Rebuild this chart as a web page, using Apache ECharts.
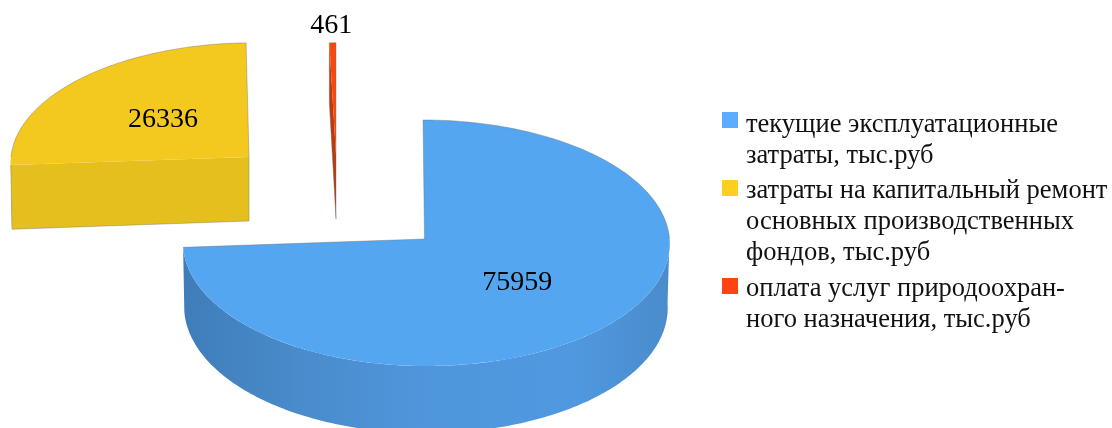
<!DOCTYPE html>
<html>
<head>
<meta charset="utf-8">
<style>html,body{margin:0;padding:0;background:#fff}#c{width:1112px;height:428px}</style>
<script src="https://cdn.jsdelivr.net/npm/echarts@6/dist/echarts.min.js"></script>
</head>
<body>
<div id="c"></div>
<script>
var categories = [
  'текущие эксплуатационные\nзатраты, тыс.руб',
  'затраты на капитальный ремонт\nосновных производственных\nфондов, тыс.руб',
  'оплата услуг природоохран-\nного назначения, тыс.руб'
];
var values = [75959, 26336, 461];
var legendColors = ['#5BADFF', '#FFCE1F', '#FF4412'];
var topColors = ['#55A6F1', '#F3C91F', '#F8480F'];
var sideColors = ['#4F96DD', '#E5BF1E', '#B93A0C'];

var FONT = '"Liberation Serif","DejaVu Serif",serif';
var geometry = [
  {ox: 424.5, oy: 239, rx: 245, rxLeft: 241.5, ry: 123, shear: 0.012, labelF: 0.51, labelDy: 0},
  {ox: 249, oy: 157, rx: 238, rxLeft: 238, ry: 118, shear: -0.03, labelF: 0.5, labelDy: 2},
  {ox: 336, oy: 155, rx: 245, rxLeft: 245, ry: 116, shear: 0, labelF: 1.16, labelDy: 0}
];
var legendCentres = [120, 188, 286];
var legendDrops = [5, 3.5, 3.5];
var K = 0.0325, DEPTH = 64, LINE = 31;
var total = values.reduce(function (a, b) { return a + b; }, 0);
var starts = [], acc = 0;
values.forEach(function (v) { starts.push(acc / total * 360); acc += v; });

function pt(g, deg, r, low) {
  var t = deg * Math.PI / 180, sn = Math.sin(t);
  var X = (sn < 0 ? g.rxLeft : g.rx) * r * sn, Y = -g.ry * r * Math.cos(t);
  var s = 1 + K * Y / g.ry;
  var x = g.ox + X * s * (low ? (sn < 0 ? 0.995 : 0.992) : 1) + g.shear * Y;
  var y = g.oy + Y * s + (low ? DEPTH * (1 + 0.05 * Y / g.ry) : 0);
  return [x, y];
}
function arc(g, a, b, low) {
  var out = [], n = Math.max(2, Math.ceil(Math.abs(b - a)));
  for (var i = 0; i <= n; i++) out.push(pt(g, a + (b - a) * i / n, 1, low));
  return out;
}
function sinD(d) { return Math.sin(d * Math.PI / 180); }

function renderSlice(idx) {
  return function (params, api) {
    var g = geometry[idx], v = api.value(0);
    var a = starts[idx], b = a + v / total * 360;
    var kids = [];
    var edge = 'rgba(110,110,110,0.5)';
    var sideFill = idx === 0 ? {
      type: 'linear', x: 0, y: 0, x2: 1, y2: 0,
      colorStops: [
        {offset: 0, color: '#3E7DB9'}, {offset: 0.25, color: '#4A8CCC'},
        {offset: 0.5, color: '#4F96DC'}, {offset: 0.8, color: '#5098E0'},
        {offset: 1, color: '#4A8CCB'}
      ]
    } : sideColors[idx];
    function line(points) {
      kids.push({type: 'polyline', silent: true, shape: {points: points},
        style: {fill: 'none', stroke: edge, lineWidth: 0.8}});
    }
    // outer wall, front half only
    var wa = Math.max(a, 90), wb = Math.min(b, 270);
    if (wb > wa) {
      kids.push({type: 'polygon', silent: true,
        shape: {points: arc(g, wa, wb, false).concat(arc(g, wa, wb, true).reverse())},
        style: {fill: sideFill}});
    }
    // cut faces that turn towards the viewer
    var cutA = sinD(a) < -1e-6, cutB = sinD(b) > 1e-6;
    [[a, cutA], [b, cutB]].forEach(function (c) {
      if (!c[1]) return;
      kids.push({type: 'polygon', silent: true,
        shape: {points: [pt(g, c[0], 1, false), pt(g, 0, 0, false), pt(g, 0, 0, true), pt(g, c[0], 1, true)]},
        style: {fill: sideFill}});
      line([pt(g, c[0], 1, false), pt(g, c[0], 1, true), pt(g, 0, 0, true), pt(g, 0, 0, false)]);
    });
    // top face
    kids.push({type: 'polygon', silent: true,
      shape: {points: [pt(g, 0, 0, false)].concat(arc(g, a, b, false))},
      style: {fill: topColors[idx]}});
    // thin outline only where the top face meets the background
    if (!cutA) line([pt(g, a, 1, false), pt(g, 0, 0, false)]);
    if (!cutB) line([pt(g, b, 1, false), pt(g, 0, 0, false)]);
    if (a < 90) line(arc(g, a, Math.min(b, 90), false));
    if (b > 270) line(arc(g, Math.max(a, 270), b, false));
    // value label
    var m = pt(g, (a + b) / 2, g.labelF, false);
    kids.push({type: 'text', silent: true,
      style: {text: String(v), x: m[0] - (idx === 2 ? 1 : 0), y: m[1] + g.labelDy, align: 'center', verticalAlign: 'middle',
        font: '28px ' + FONT, fill: '#000'}});
    return {type: 'group', children: kids};
  };
}

var chart = echarts.init(document.getElementById('c'), null, {renderer: 'canvas'});
chart.setOption({
  animation: false,
  backgroundColor: '#fff',
  tooltip: {show: false},
  legend: categories.map(function (name, i) {
    var parts = name.split('\n');
    var drop = legendDrops[i];
    var gap = (parts.length - 1) * LINE + 2 * drop;
    return {
      orient: 'vertical', left: 722, top: legendCentres[i] + drop - LINE / 2 - gap,
      padding: 0, itemWidth: 16, itemHeight: 16, icon: 'rect', selectedMode: false,
      data: [name],
      // a spacer row above sets the first text row level with the marker
      formatter: function () {
        return '{gap| }\n' + parts.map(function (p) { return '{t|' + p + '}'; }).join('\n');
      },
      textStyle: {
        padding: [0, 0, 0, 3],
        rich: {
          gap: {fontSize: 1, lineHeight: gap, height: gap},
          t: {fontFamily: FONT, fontSize: 26.5, lineHeight: LINE, color: '#111'}
        }
      }
    };
  }),
  series: categories.map(function (name, i) {
    return {
      type: 'custom', name: name, coordinateSystem: 'none', silent: true,
      itemStyle: {color: legendColors[i]},
      data: [[values[i]]],
      renderItem: renderSlice(i)
    };
  })
});
</script>
</body>
</html>
